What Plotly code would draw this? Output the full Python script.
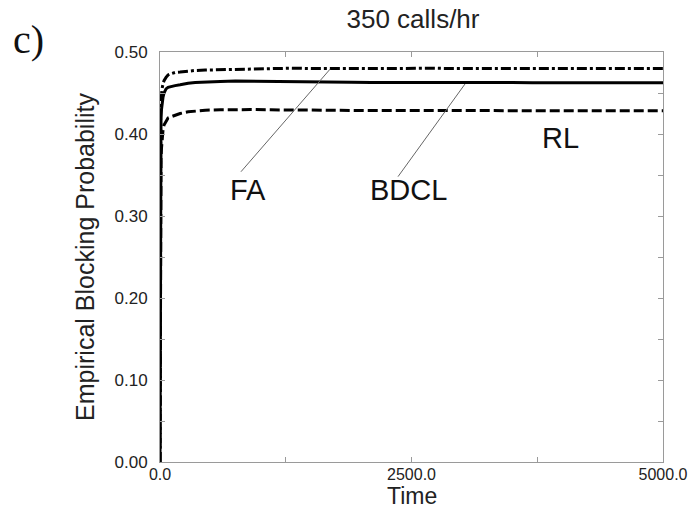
import plotly.graph_objects as go

# ---- data ----
time = [0, 1, 2, 3, 5, 7, 10, 15, 20, 30, 40, 60, 80, 110, 150, 200, 280, 350, 450, 600,
        750, 900, 1100, 1300, 1500, 1700, 1900, 2100, 2300, 2500, 2700, 2900, 3100, 3300,
        3500, 3700, 3900, 4100, 4300, 4500, 4700, 4900, 5000]

fa = [0, 0.18, 0.30, 0.37, 0.41, 0.43, 0.44, 0.449, 0.455, 0.461, 0.465, 0.469, 0.472, 0.4735,
      0.475, 0.4755, 0.477, 0.4775, 0.478, 0.4785, 0.479, 0.4795, 0.4798, 0.4802, 0.4799,
      0.4803, 0.4800, 0.4798, 0.4801, 0.4800, 0.4802, 0.4799, 0.4800, 0.4801, 0.4799, 0.4800,
      0.4802, 0.4800, 0.4799, 0.4801, 0.4800, 0.4800, 0.4800]

bdcl = [0, 0.15, 0.28, 0.35, 0.39, 0.41, 0.42, 0.43, 0.437, 0.445, 0.450, 0.455, 0.457, 0.458,
        0.459, 0.460, 0.462, 0.4628, 0.4635, 0.464, 0.4645, 0.4642, 0.4640, 0.4637, 0.4635,
        0.4632, 0.4630, 0.4628, 0.4629, 0.4627, 0.4628, 0.4626, 0.4627, 0.4626, 0.4627,
        0.4626, 0.4625, 0.4627, 0.4626, 0.4626, 0.4625, 0.4626, 0.4626]

rl = [0, 0.12, 0.22, 0.28, 0.33, 0.355, 0.37, 0.383, 0.392, 0.405, 0.411, 0.416, 0.4195, 0.421,
      0.423, 0.425, 0.427, 0.428, 0.429, 0.4295, 0.430, 0.4298, 0.4295, 0.4292, 0.4290,
      0.4288, 0.4287, 0.4286, 0.4286, 0.4285, 0.4285, 0.4284, 0.4285, 0.4284, 0.4284,
      0.4285, 0.4284, 0.4284, 0.4283, 0.4284, 0.4284, 0.4283, 0.4284]

x_tickvals = [0, 1250, 2500, 3750, 5000]
x_ticktext = ["0.0", "", "2500.0", "", "5000.0"]
y_tickvals = [0, 0.05, 0.10, 0.15, 0.20, 0.25, 0.30, 0.35, 0.40, 0.45, 0.50]
y_ticktext = ["0.00", "", "0.10", "", "0.20", "", "0.30", "", "0.40", "", "0.50"]

FONT = "Liberation Sans, Arial, sans-serif"
AX = "#9a9a9a"

fig = go.Figure()
fig.add_trace(go.Scatter(x=time, y=fa, mode="lines", name="FA",
                         line=dict(color="black", width=3, dash="10px,3px,3px,3px")))
fig.add_trace(go.Scatter(x=time, y=bdcl, mode="lines", name="BDCL",
                         line=dict(color="black", width=3)))
fig.add_trace(go.Scatter(x=time, y=rl, mode="lines", name="RL",
                         line=dict(color="black", width=3, dash="10px,4px")))

fig.update_layout(
    width=691, height=511, autosize=False,
    margin=dict(l=160, r=28, t=52, b=49),
    paper_bgcolor="white", plot_bgcolor="white",
    showlegend=False,
    font=dict(family=FONT, color="#222"),
    title=dict(text="350 calls/hr", x=413 / 691, xref="container", xanchor="center",
               y=1 - 19 / 511, yref="container", yanchor="middle",
               font=dict(size=26, family=FONT, color="#222")),
)

fig.update_xaxes(range=[0, 5000], tickvals=x_tickvals, ticktext=x_ticktext,
                 ticks="inside", ticklen=5, tickcolor=AX, showline=True, linecolor=AX,
                 linewidth=1, mirror="ticks", showgrid=False, zeroline=False,
                 automargin=False, ticklabelstandoff=-2,
                 tickfont=dict(size=16, family=FONT, color="#222"))
fig.update_yaxes(range=[0, 0.5], tickvals=y_tickvals, ticktext=y_ticktext,
                 ticks="inside", ticklen=5, tickcolor=AX, showline=True, linecolor=AX,
                 linewidth=1, mirror="ticks", showgrid=False, zeroline=False,
                 ticklabelstandoff=8, automargin=False,
                 tickfont=dict(size=17, family=FONT, color="#222"),
                 title=dict(text="Empirical Blocking Probability",
                            font=dict(size=25, family=FONT, color="#222"), standoff=12))

# x-axis title placed just under the tick labels
fig.add_annotation(text="Time", xref="paper", yref="paper", x=0.5, y=(462 - 496) / 410,
                   showarrow=False, xanchor="center", yanchor="middle",
                   font=dict(size=23, family=FONT, color="#222"))

# pointer lines
fig.add_shape(type="line", xref="x", yref="y", x0=805, y0=0.354, x1=1690, y1=0.479,
              line=dict(color="#666", width=1))
fig.add_shape(type="line", xref="x", yref="y", x0=2366, y0=0.348, x1=3032, y1=0.461,
              line=dict(color="#666", width=1))

for txt, xx, yy in [("FA", 875, 0.332), ("BDCL", 2475, 0.332), ("RL", 3986, 0.395)]:
    fig.add_annotation(text=txt, x=xx, y=yy, xref="x", yref="y", showarrow=False,
                       xanchor="center", yanchor="middle",
                       font=dict(size=29, family=FONT, color="#111"))

fig.add_annotation(text="c)", xref="paper", yref="paper", x=(28 - 160) / 503,
                   y=(462 - 40) / 410, showarrow=False, xanchor="center", yanchor="middle",
                   font=dict(size=40, family="Liberation Serif, Times New Roman, serif",
                             color="#111"))

fig.write_html("out.html", config={"displayModeBar": False},
               post_script="document.body.style.margin='0';document.body.style.overflow='hidden';")
